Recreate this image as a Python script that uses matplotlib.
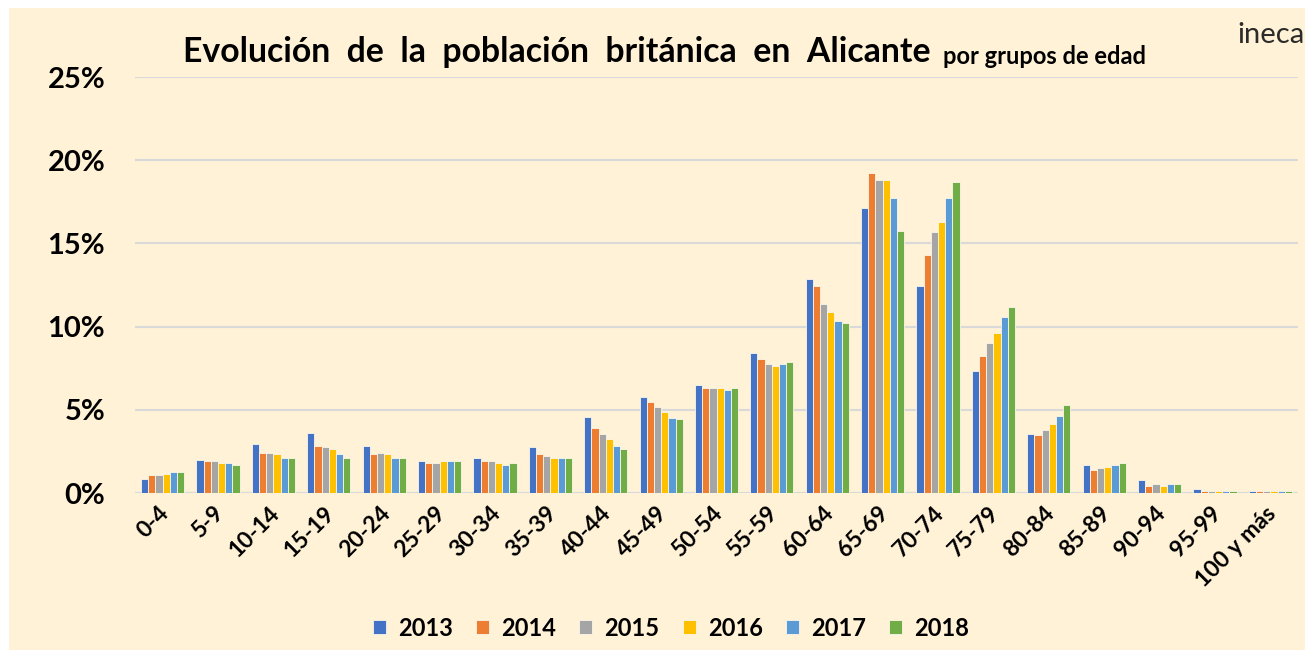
import numpy as np
import matplotlib.pyplot as plt
import matplotlib.transforms as mtransforms
from matplotlib.patches import Rectangle

# ============================================
# DATA (share of British residents by age group, %)
# ============================================
grupos = ['0-4', '5-9', '10-14', '15-19', '20-24', '25-29', '30-34', '35-39',
          '40-44', '45-49', '50-54', '55-59', '60-64', '65-69', '70-74',
          '75-79', '80-84', '85-89', '90-94', '95-99', '100 y más']
years = ['2013', '2014', '2015', '2016', '2017', '2018']

v2013 = [0.86, 2.00, 2.95, 3.60, 2.85, 1.91, 2.11, 2.75, 4.54, 5.76, 6.50,
         8.39, 12.84, 17.13, 12.44, 7.32, 3.57, 1.71, 0.76, 0.22, 0.12]
v2014 = [1.06, 1.91, 2.43, 2.85, 2.33, 1.79, 1.91, 2.33, 3.90, 5.46, 6.31,
         8.07, 12.44, 19.22, 14.30, 8.24, 3.47, 1.39, 0.44, 0.12, 0.12]
v2015 = [1.06, 1.91, 2.43, 2.75, 2.43, 1.79, 1.91, 2.21, 3.57, 5.16, 6.31,
         7.75, 11.37, 18.80, 15.67, 8.99, 3.78, 1.49, 0.54, 0.12, 0.12]
v2016 = [1.16, 1.79, 2.33, 2.63, 2.33, 1.91, 1.79, 2.11, 3.27, 4.84, 6.31,
         7.65, 10.85, 18.80, 16.29, 9.61, 4.12, 1.59, 0.44, 0.12, 0.12]
v2017 = [1.29, 1.79, 2.11, 2.33, 2.11, 1.91, 1.69, 2.13, 2.85, 4.52, 6.20,
         7.75, 10.33, 17.75, 17.75, 10.55, 4.64, 1.71, 0.54, 0.12, 0.12]
v2018 = [1.29, 1.69, 2.11, 2.11, 2.11, 1.91, 1.79, 2.13, 2.63, 4.42, 6.31,
         7.87, 10.23, 15.77, 18.70, 11.17, 5.26, 1.81, 0.54, 0.12, 0.14]

colors = ['#4472C4', '#ED7D31', '#A5A5A5', '#FFC000', '#5B9BD5', '#70AD47']
bg = '#FFF2D6'

plt.rcParams['font.family'] = ['Lato', 'DejaVu Sans']

fig = plt.figure(figsize=(13.05, 6.58), dpi=100, facecolor='white')
fig.patches.append(Rectangle((9 / 1305, 8 / 658), 1296 / 1305, 642 / 658,
                             transform=fig.transFigure, facecolor=bg,
                             edgecolor='none', zorder=-10))

ax = fig.add_axes([135 / 1305, 1 - 493 / 658, 1163 / 1305, 416 / 658])
ax.set_facecolor('none')

x = np.arange(len(grupos))
series = [v2013, v2014, v2015, v2016, v2017, v2018]
width = 0.78 / 6
for i, (yr, vals, col) in enumerate(zip(years, series, colors)):
    offs = (i - 2.5) * width
    ax.bar(x + offs, np.array(vals) / 100, width, color=col, label=yr,
           edgecolor='#FBF6EA', linewidth=0.6, zorder=3)

ax.set_xlim(-0.5, len(grupos) - 0.5)
ax.set_ylim(0, 0.25)
ticks = np.arange(0, 0.26, 0.05)
ax.set_yticks(ticks)
ax.set_yticklabels([f'{int(round(t * 100))}%' for t in ticks],
                   fontsize=21, fontweight='bold')
ax.grid(axis='y', color='#D9D9D9', linewidth=1.5, zorder=0)
ax.tick_params(axis='both', length=0)
ax.tick_params(axis='y', pad=21.5)
for s in ax.spines.values():
    s.set_visible(False)
ax.axhline(0, color='#D9D9D9', linewidth=1.5, zorder=1)

ax.set_xticks(x)
ax.set_xticklabels(grupos, rotation=45, ha='right', rotation_mode='anchor',
                   fontsize=16.5, fontweight='bold')
ax.tick_params(axis='x', pad=7)
shift = mtransforms.ScaledTranslation(-5 / 100, 0, fig.dpi_scale_trans)
for lbl in ax.get_xticklabels():
    lbl.set_transform(lbl.get_transform() + shift)

fig.text(183 / 1305, 1 - 52 / 658, 'Evolución  de  la  población  británica  en  Alicante',
         fontsize=24.3, fontweight='bold', va='center', ha='left')
fig.text(943 / 1305, 1 - 56 / 658, 'por grupos de edad',
         fontsize=17, fontweight='bold', va='center', ha='left')
fig.text(1237 / 1305, 1 - 35 / 658, 'ineca', fontsize=21, color='#2B2B2B',
         va='center', ha='left')

fig.legend(loc='center', bbox_to_anchor=(671 / 1305, 1 - 628 / 658), ncol=6,
           frameon=False, prop={'size': 17, 'weight': 'bold'},
           handlelength=0.55, handleheight=0.55, handletextpad=0.5,
           columnspacing=1.0)

plt.savefig('out.png', dpi=100, facecolor='white')
